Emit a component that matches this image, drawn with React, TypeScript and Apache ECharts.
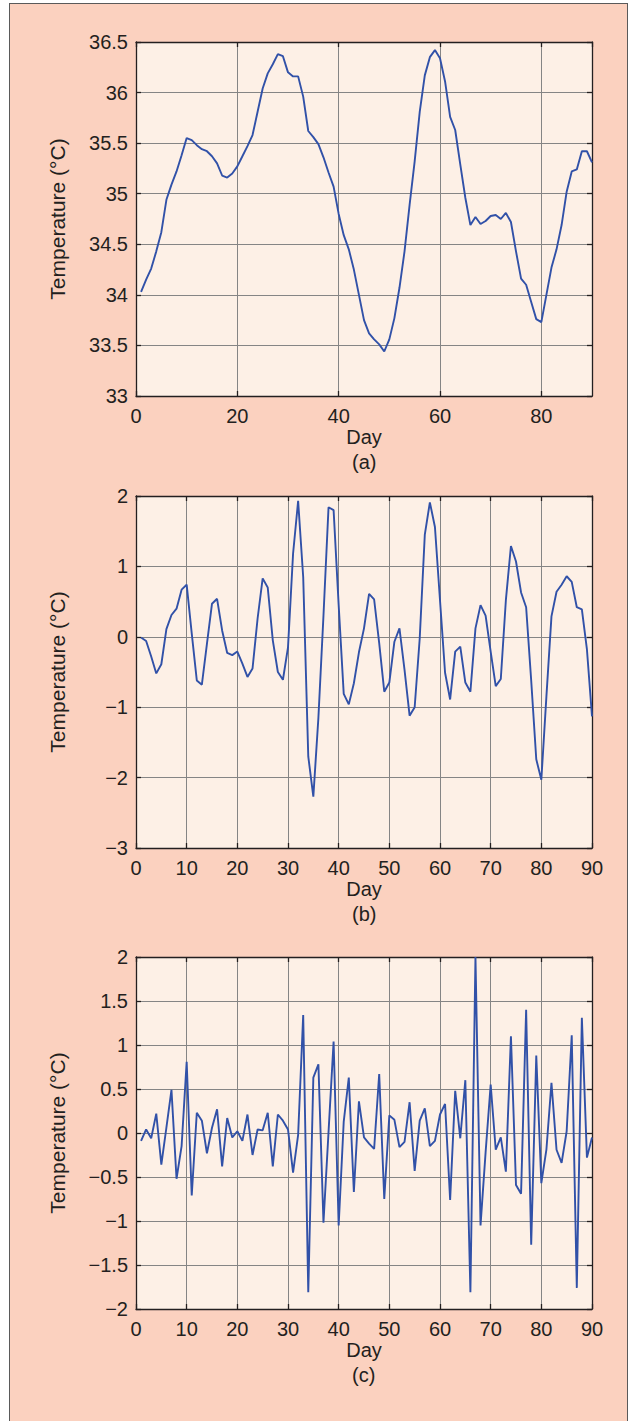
import React, { useEffect, useRef } from "react";
import * as echarts from "echarts";

// Daily body temperature record (°C), days 1–90
const rawTemperature = [
  34.03, 34.15, 34.26, 34.43, 34.62, 34.94, 35.09, 35.22, 35.38, 35.55,
  35.53, 35.48, 35.44, 35.42, 35.37, 35.3, 35.18, 35.16, 35.2, 35.27,
  35.37, 35.47, 35.58, 35.81, 36.04, 36.19, 36.28, 36.38, 36.36, 36.2,
  36.16, 36.16, 35.96, 35.62, 35.56, 35.49, 35.36, 35.21, 35.07, 34.8,
  34.59, 34.45, 34.25, 34.0, 33.75, 33.62, 33.56, 33.51, 33.44, 33.56,
  33.77, 34.07, 34.43, 34.89, 35.32, 35.81, 36.17, 36.35, 36.42, 36.34,
  36.11, 35.76, 35.63, 35.29, 34.96, 34.69, 34.77, 34.7, 34.73, 34.78,
  34.79, 34.75, 34.81, 34.72, 34.43, 34.16, 34.1, 33.93, 33.76, 33.73,
  34.0, 34.27, 34.45, 34.69, 35.02, 35.22, 35.24, 35.42, 35.42, 35.31,
];

// Detrended component (°C)
const detrended = [
  -0.01, -0.06, -0.28, -0.52, -0.39, 0.11, 0.31, 0.4, 0.67, 0.74,
  0.05, -0.62, -0.68, -0.1, 0.47, 0.54, 0.09, -0.23, -0.26, -0.21,
  -0.38, -0.57, -0.45, 0.26, 0.83, 0.7, -0.05, -0.5, -0.61, -0.15,
  1.18, 1.93, 0.85, -1.7, -2.27, -1.15, 0.3, 1.84, 1.8, 0.45,
  -0.81, -0.96, -0.66, -0.22, 0.12, 0.61, 0.53, -0.09, -0.78, -0.65,
  -0.07, 0.12, -0.47, -1.12, -1.0, -0.02, 1.45, 1.91, 1.56, 0.52,
  -0.51, -0.89, -0.21, -0.14, -0.65, -0.78, 0.12, 0.45, 0.3, -0.21,
  -0.7, -0.6, 0.52, 1.29, 1.07, 0.63, 0.42, -0.62, -1.74, -2.03,
  -0.85, 0.29, 0.64, 0.74, 0.86, 0.78, 0.42, 0.39, -0.18, -1.13,
];

// Residual day-to-day fluctuation (°C)
const residual = [
  -0.09, 0.04, -0.06, 0.22, -0.36, 0.06, 0.49, -0.52, -0.15, 0.81,
  -0.71, 0.23, 0.14, -0.23, 0.06, 0.27, -0.38, 0.17, -0.05, 0.02,
  -0.09, 0.21, -0.25, 0.04, 0.03, 0.23, -0.38, 0.21, 0.14, 0.04,
  -0.45, -0.02, 1.34, -1.81, 0.63, 0.78, -1.02, 0.01, 1.04, -1.05,
  0.13, 0.63, -0.67, 0.36, -0.05, -0.12, -0.18, 0.67, -0.75, 0.2,
  0.15, -0.16, -0.1, 0.35, -0.43, 0.14, 0.28, -0.15, -0.09, 0.21,
  0.33, -0.76, 0.48, -0.06, 0.6, -1.81, 2.0, -1.05, -0.22, 0.55,
  -0.19, -0.05, -0.44, 1.1, -0.59, -0.69, 1.4, -1.27, 0.88, -0.57,
  -0.19, 0.57, -0.19, -0.34, 0.02, 1.11, -1.76, 1.31, -0.28, -0.05,
];

const panelTags = ["(a)", "(b)", "(c)"];
const xLabelName = "Day";
const yLabelName = "Temperature (°C)";

// Axis ranges per panel
const yMins = [33, -3, -2];
const yMaxs = [36.5, 2, 2];
const ySteps = [0.5, 1, 0.5];
const xSteps = [20, 10, 10];
const xMax = 90;

const panelSeries = [rawTemperature, detrended, residual];

const FONT = '"Liberation Sans", Arial, Helvetica, sans-serif';
const INK = "#231f20";
const GRID_GRAY = "#858585";
const LINE_BLUE = "#3151a8";
const PLOT_FILL = "#fdf0e6";

const grids = [
  { left: 136, top: 42, width: 456, height: 354 },
  { left: 136, top: 496, width: 456, height: 352 },
  { left: 136, top: 957, width: 456, height: 352 },
];

const fmt = (v: number) => String(v).replace("-", "\u2212");

function buildOption() {
  const xAxis: any[] = [];
  const yAxis: any[] = [];
  const series: any[] = [];
  const graphic: any[] = [];

  grids.forEach((g, i) => {
    const axisLine = { show: true, onZero: false, lineStyle: { color: INK, width: 1.3 } };
    const tick = { show: true, inside: true, length: 5, lineStyle: { color: INK, width: 1.3 } };
    xAxis.push({
      gridIndex: i,
      type: "value",
      position: "bottom",
      min: 0,
      max: xMax,
      interval: xSteps[i],
      axisLine,
      axisTick: tick,
      axisLabel: {
        show: true,
        margin: 10,
        fontSize: 20,
        fontFamily: FONT,
        color: INK,
        showMaxLabel: xMax % xSteps[i] === 0,
        formatter: fmt,
      },
      splitLine: { show: true, lineStyle: { color: GRID_GRAY, width: 1 } },
      name: xLabelName,
      nameLocation: "middle",
      nameGap: 30,
      nameTextStyle: { fontSize: 20, fontFamily: FONT, color: INK },
    });
    xAxis.push({
      gridIndex: i,
      type: "value",
      position: "top",
      min: 0,
      max: xMax,
      interval: xSteps[i],
      axisLine,
      axisTick: tick,
      axisLabel: { show: false },
      splitLine: { show: false },
    });
    yAxis.push({
      gridIndex: i,
      type: "value",
      position: "left",
      min: yMins[i],
      max: yMaxs[i],
      interval: ySteps[i],
      axisLine,
      axisTick: tick,
      axisLabel: {
        show: true,
        margin: 8,
        fontSize: 20,
        fontFamily: FONT,
        color: INK,
        formatter: fmt,
      },
      splitLine: { show: true, lineStyle: { color: GRID_GRAY, width: 1 } },
      name: yLabelName,
      nameLocation: "middle",
      nameGap: 68,
      nameTextStyle: { fontSize: 21, fontFamily: FONT, color: INK },
    });
    yAxis.push({
      gridIndex: i,
      type: "value",
      position: "right",
      min: yMins[i],
      max: yMaxs[i],
      interval: ySteps[i],
      axisLine,
      axisTick: tick,
      axisLabel: { show: false },
      splitLine: { show: false },
    });
    series.push({
      type: "line",
      xAxisIndex: i * 2,
      yAxisIndex: i * 2,
      data: panelSeries[i].map((v, k) => [k + 1, v]),
      showSymbol: false,
      symbol: "none",
      lineStyle: { color: LINE_BLUE, width: 1.9 },
      clip: true,
    });
    graphic.push({
      type: "text",
      left: g.left + g.width / 2 - 12,
      top: g.top + g.height + 56,
      style: { text: panelTags[i], fontSize: 20, fontFamily: FONT, fill: INK },
    });
  });

  return {
    animation: false,
    grid: grids.map((g) => ({
      ...g,
      show: true,
      backgroundColor: PLOT_FILL,
      borderWidth: 0,
    })),
    xAxis,
    yAxis,
    series,
    graphic,
  };
}

export default function App() {
  const ref = useRef<HTMLDivElement>(null);
  useEffect(() => {
    if (!ref.current) return;
    const chart = echarts.init(ref.current, undefined, { renderer: "svg" });
    chart.setOption(buildOption());
    return () => chart.dispose();
  }, []);

  return (
    <div style={{ position: "absolute", left: 0, top: 0, width: 633, height: 1421, background: "#ffffff", overflow: "hidden" }}>
      <div
        style={{
          position: "absolute",
          left: 9,
          top: 3,
          width: 617,
          height: 1440,
          background: "#fbd1bf",
          border: "1px solid #5a5a5a",
        }}
      />
      <div ref={ref} style={{ position: "absolute", left: 0, top: 0, width: 633, height: 1421 }} />
    </div>
  );
}
